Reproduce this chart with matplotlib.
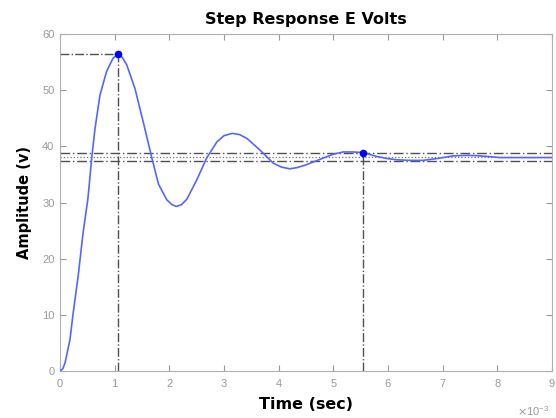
import matplotlib
matplotlib.use("Agg")
import matplotlib.pyplot as plt
from matplotlib.ticker import ScalarFormatter, MultipleLocator
from matplotlib.transforms import ScaledTranslation

# response (time in ms, amplitude in volts)
t_ms = [0, 0.05, 0.09, 0.18, 0.24, 0.33, 0.42, 0.51, 0.58, 0.64, 0.73, 0.85,
        0.97, 1.06, 1.14, 1.22, 1.37, 1.52, 1.68, 1.80, 1.95, 2.05, 2.13, 2.22,
        2.32, 2.50, 2.68, 2.87, 3.00, 3.15, 3.28, 3.42, 3.66, 3.90, 4.05, 4.20,
        4.33, 4.50, 4.81, 5.00, 5.18, 5.35, 5.54, 5.79, 6.00, 6.16, 6.40, 6.64,
        6.95, 7.19, 7.45, 7.68, 8.05, 8.50, 9.00]
volts = [0, 0.4, 1.4, 5.5, 10.3, 16.8, 24.5, 30.7, 38.0, 43.2, 49.1, 53.3,
         55.7, 56.4, 55.8, 54.5, 50.3, 44.4, 37.9, 33.3, 30.5, 29.6, 29.3, 29.6,
         30.6, 34.0, 37.9, 40.8, 41.9, 42.3, 42.1, 41.4, 39.3, 37.0, 36.3, 36.0,
         36.2, 36.7, 37.9, 38.6, 39.0, 39.0, 38.9, 38.2, 37.8, 37.6, 37.5, 37.5,
         37.9, 38.3, 38.4, 38.3, 38.0, 38.0, 38.0]

peak_t, peak_v = 1.06, 56.4
settle_t, settle_v = 5.54, 38.9
final_v = 38.1
band = [38.86, 37.34]

t = [v * 1e-3 for v in t_ms]

plt.rcParams['font.family'] = ['Liberation Sans', 'DejaVu Sans']
fig = plt.figure(figsize=(5.56, 4.18), dpi=100)
ax = fig.add_axes([0.108, 0.1124, 0.885, 0.8063])

ref = '#505050'
ax.plot(t, volts, color='#5566ff', linewidth=1.2, zorder=3)

# peak annotation
ax.plot([0, peak_t * 1e-3], [peak_v, peak_v], color=ref, ls='-.', lw=1)
ax.plot([peak_t * 1e-3, peak_t * 1e-3], [0, peak_v], color=ref, ls='-.', lw=1)
ax.plot(peak_t * 1e-3, peak_v, 'o', color='#0000ff', ms=4.5, zorder=4)

# settling annotation
for b in band:
    ax.axhline(b, color=ref, ls=(0, (7, 2, 1, 2)), lw=1)
ax.axhline(final_v, color='#707070', ls=':', lw=0.9)
ax.plot([settle_t * 1e-3, settle_t * 1e-3], [0, settle_v], color=ref, ls='-.', lw=1)
ax.plot(settle_t * 1e-3, settle_v, 'o', color='#0000ff', ms=4.5, zorder=4)

ax.set_xlim(0, 9e-3)
ax.set_ylim(0, 60)
ax.xaxis.set_major_locator(MultipleLocator(1e-3))
ax.yaxis.set_major_locator(MultipleLocator(10))
fmt = ScalarFormatter(useMathText=True)
fmt.set_powerlimits((-3, -3))
ax.xaxis.set_major_formatter(fmt)

grey = '#999999'
for s in ax.spines.values():
    s.set_color('#b0b0b0')
ax.tick_params(direction='in', top=True, right=True, colors=grey,
               labelsize=8, length=4, pad=4)
off = ax.xaxis.get_offset_text()
off.set_color(grey)
off.set_fontsize(8)
off.set_transform(off.get_transform() + ScaledTranslation(-2 / 72, -8 / 72, fig.dpi_scale_trans))

bold = dict(fontweight='bold', family='DejaVu Sans')
ax.set_title('Step Response E Volts', fontsize=11.5, pad=7, **bold)
ax.set_xlabel('Time (sec)', fontsize=11.5, labelpad=6, **bold)
ax.set_ylabel('Amplitude (v)', fontsize=10.5, labelpad=7, **bold)

fig.savefig('out.png', dpi=100)
